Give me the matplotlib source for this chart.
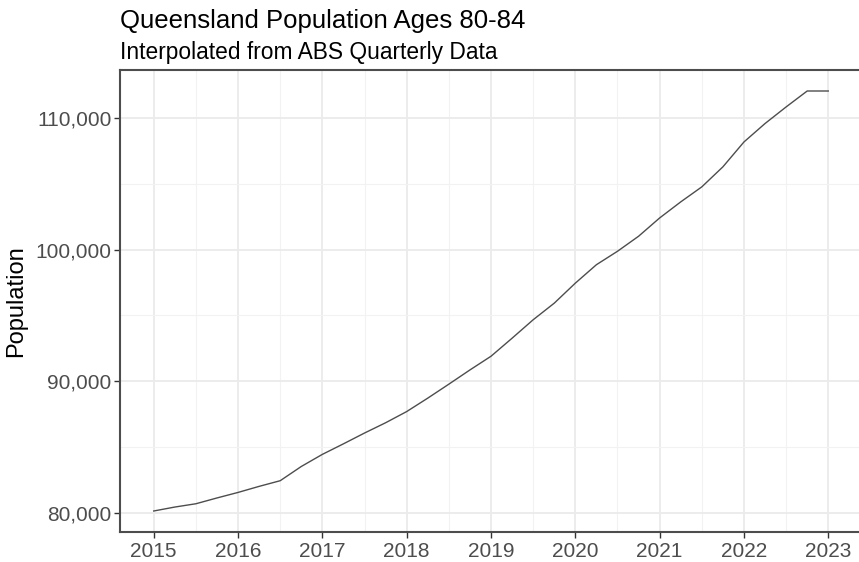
import matplotlib.pyplot as plt
from matplotlib.ticker import FuncFormatter, MultipleLocator

# quarterly points (decimal years)
quarters = [
    2015.00, 2015.25, 2015.50, 2015.75,
    2016.00, 2016.25, 2016.50, 2016.75,
    2017.00, 2017.25, 2017.50, 2017.75,
    2018.00, 2018.25, 2018.50, 2018.75,
    2019.00, 2019.25, 2019.50, 2019.75,
    2020.00, 2020.25, 2020.50, 2020.75,
    2021.00, 2021.25, 2021.50, 2021.75,
    2022.00, 2022.25, 2022.50, 2022.75,
    2023.00,
]
population = [
    80150, 80450, 80700, 81140,
    81560, 82020, 82450, 83530,
    84450, 85250, 86070, 86850,
    87700, 88720, 89780, 90860,
    91900, 93270, 94670, 95930,
    97450, 98850, 99870, 101010,
    102400, 103620, 104760, 106280,
    108170, 109570, 110830, 112040,
    112040,
]
year_ticks = list(range(2015, 2024))
pop_ticks = [80000, 90000, 100000, 110000]

plt.rcParams["font.family"] = ["Liberation Sans", "DejaVu Sans"]

W, H = 859, 562
fig = plt.figure(figsize=(W / 100, H / 100), dpi=100)
ax = fig.add_axes([120 / W, 1 - 532 / H, 742 / W, 462 / H])

ax.plot(quarters, population, color="#4d4d4d", linewidth=1.0, zorder=3)

# ggplot-style 5% expansion
x0, x1 = min(quarters), max(quarters)
y0, y1 = min(population), max(population)
dx, dy = (x1 - x0) * 0.05, (y1 - y0) * 0.05
ax.set_xlim(x0 - dx, x1 + dx)
ax.set_ylim(y0 - dy, y1 + dy)

ax.set_xticks(year_ticks)
ax.set_yticks(pop_ticks)
ax.xaxis.set_minor_locator(MultipleLocator(0.5))
ax.yaxis.set_minor_locator(MultipleLocator(5000))
ax.yaxis.set_major_formatter(FuncFormatter(lambda v, p: f"{int(v):,}"))

ax.grid(which="major", color="#ebebeb", linewidth=1.3, zorder=0)
ax.grid(which="minor", color="#f2f2f2", linewidth=0.8, zorder=0)
ax.set_axisbelow(True)
ax.tick_params(which="minor", length=0)
ax.tick_params(which="major", length=4, width=1, color="#333333",
               labelsize=15, labelcolor="#4d4d4d", pad=2)
ax.tick_params(axis="x", pad=3)
for s in ax.spines.values():
    s.set_color("#4d4d4d")
    s.set_linewidth(1.5)

ax.set_ylabel("Population", fontsize=17, color="black")
ax.yaxis.set_label_coords(-93 / 742, 0.5)

fig.text(120 / W, 1 - 28 / H, "Queensland Population Ages 80-84",
         fontsize=18.5, ha="left", va="baseline")
fig.text(120 / W, 1 - 59 / H, "Interpolated from ABS Quarterly Data",
         fontsize=16.4, ha="left", va="baseline")

fig.savefig("out.png", dpi=100)
